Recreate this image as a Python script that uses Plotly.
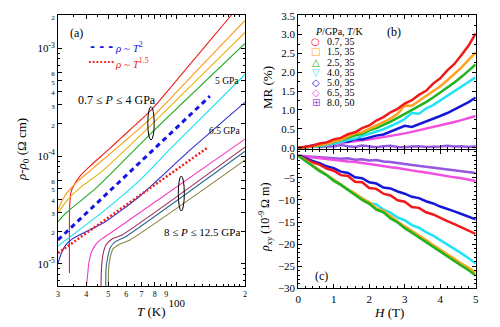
import plotly.graph_objects as go

# ---------------- panel (a): rho - rho0 vs T, log-log ----------------
T_P07 = [33.7, 33.7, 33.9, 34.2, 35.3, 37.5, 41.5, 49.8, 57.4, 77.1, 114.4, 173.5, 182.5]
RHO_P07 = [8.25e-6, 2.84e-5, 3.91e-5, 4.64e-5, 5.39e-5, 6.53e-5, 8.08e-5, 1.137e-4, 1.50e-4, 2.67e-4, 7.11e-4, 2.02e-3, 2.30e-3]
T_P15 = [30, 31.2, 32.8, 36.3, 42.9, 77.1, 126.7, 200]
RHO_P15 = [3.16e-5, 3.83e-5, 4.54e-5, 5.74e-5, 7.74e-5, 2.25e-4, 6.68e-4, 1.816e-3]
T_P25 = [30, 32.2, 34.5, 38.8, 45.9, 77.1, 126.7, 200]
RHO_P25 = [2.97e-5, 3.67e-5, 4.35e-5, 5.39e-5, 6.96e-5, 1.94e-4, 5.45e-4, 1.406e-3]
T_P40 = [30, 31.2, 32.9, 44.6, 77.1, 200]
RHO_P40 = [2.45e-5, 2.72e-5, 3.03e-5, 5.16e-5, 1.63e-4, 1.112e-3]
T_P50 = [30, 48.3, 68.9, 93.4, 200]
RHO_P50 = [1.468e-5, 3.16e-5, 5.99e-5, 1.161e-4, 5.74e-4]
T_P65 = [30, 31.2, 32.5, 34.6, 48.3, 68.9, 114.4, 200]
RHO_P65 = [1.02e-5, 1.29e-5, 1.50e-5, 1.70e-5, 2.45e-5, 4.27e-5, 1.137e-4, 3.16e-4]
T_HP1 = [40, 40.5, 41.1, 42.3, 45.0, 51.9, 200]
RHO_HP1 = [6.12e-6, 7.91e-6, 1.043e-5, 1.32e-5, 1.60e-5, 1.98e-5, 1.437e-4]
T_HP2 = [46.4, 46.6, 47.3, 48.8, 51.9, 57.4, 200]
RHO_HP2 = [6.12e-6, 8.8e-6, 1.21e-5, 1.50e-5, 1.70e-5, 1.855e-5, 1.212e-4]
T_HP3 = [48.7, 48.8, 49.6, 50.9, 53.5, 59.2, 200]
RHO_HP3 = [6.12e-6, 8.8e-6, 1.136e-5, 1.406e-5, 1.60e-5, 1.778e-5, 1.112e-4]
T_HP4 = [50.0, 50.1, 50.9, 52.4, 56.3, 62.3, 200]
RHO_HP4 = [6.12e-6, 8.8e-6, 1.136e-5, 1.377e-5, 1.532e-5, 1.67e-5, 9.18e-5]
# guide lines
T_SQ = [30, 140]
RHO_SQ = [1.67e-5, 3.6e-4]
T_15 = [30, 136]
RHO_15 = [1.26e-5, 1.19e-4]

# ---------------- panels (b) and (c): MR and rho_xy vs H ----------------
H_FIELD = [0.0, 0.2, 0.4, 0.6, 0.8, 1.0, 1.2, 1.4, 1.6, 1.8, 2.0, 2.2, 2.4,
           2.6, 2.8, 3.0, 3.2, 3.4, 3.6, 3.8, 4.0, 4.2, 4.4, 4.6, 4.8, 5.0]
MR_07 = [0, 0.03, 0.05, 0.11, 0.14, 0.22, 0.26, 0.36, 0.41, 0.52, 0.59, 0.72, 0.81,
         0.94, 1.03, 1.17, 1.26, 1.40, 1.51, 1.70, 1.84, 2.05, 2.22, 2.46, 2.71, 3.03]
MR_15 = [0, 0.02, 0.03, 0.07, 0.10, 0.16, 0.21, 0.30, 0.38, 0.41, 0.50, 0.58, 0.68,
         0.77, 0.90, 1.12, 1.11, 1.24, 1.36, 1.49, 1.63, 1.79, 1.95, 2.13, 2.33, 2.53]
MR_25 = [0, 0.01, 0.03, 0.06, 0.10, 0.14, 0.20, 0.26, 0.33, 0.37, 0.46, 0.52, 0.60,
         0.69, 0.79, 0.89, 0.99, 1.10, 1.21, 1.33, 1.46, 1.59, 1.73, 1.88, 2.04, 2.21]
MR_40 = [0, 0.0, 0.02, 0.04, 0.08, 0.10, 0.15, 0.20, 0.24, 0.31, 0.36, 0.43, 0.49,
         0.57, 0.66, 0.76, 0.92, 0.90, 1.04, 1.13, 1.25, 1.37, 1.49, 1.61, 1.74, 1.87]
MR_50 = [0, 0.02, 0.06, 0.10, 0.13, 0.11, 0.18, 0.16, 0.23, 0.22, 0.28, 0.32, 0.35,
         0.42, 0.50, 0.58, 0.55, 0.62, 0.68, 0.76, 0.84, 0.92, 1.01, 1.10, 1.21, 1.33]
MR_65 = [0, 0.02, 0.04, 0.06, 0.08, 0.10, 0.12, 0.14, 0.17, 0.20, 0.22, 0.25, 0.28,
         0.31, 0.35, 0.38, 0.42, 0.46, 0.50, 0.54, 0.59, 0.63, 0.68, 0.73, 0.78, 0.84]
MR_80 = [0, 0.01, 0.03, 0.02, 0.04, 0.03, 0.07, 0.04, 0.02, 0.06, 0.03, 0.01, 0.04,
         0.05, 0.02, 0.01, 0.03, 0.04, 0.02, 0.02, 0.03, 0.05, 0.03, 0.04, 0.02, 0.04]

RXY_07 = [0, -0.8, -1.5, -2.0, -2.9, -3.4, -4.4, -4.6, -5.9, -6.0, -7.3, -7.5, -8.6,
          -9.0, -10.1, -10.4, -11.6, -11.8, -12.8, -13.3, -14.1, -14.8, -15.5, -16.2, -16.9, -17.7]
RXY_15 = [0, -1.1, -2.2, -3.3, -4.3, -5.4, -6.4, -7.6, -8.5, -9.7, -10.5, -11.9, -12.5,
          -13.8, -14.9, -16.0, -17.0, -18.1, -19.1, -20.2, -21.2, -22.3, -23.3, -24.4, -25.4, -26.4]
RXY_25 = [0, -1.2, -2.3, -3.5, -4.4, -5.7, -6.6, -7.8, -8.8, -10.0, -10.9, -12.2, -12.8,
          -14.2, -15.1, -16.4, -17.4, -18.5, -19.5, -20.6, -21.7, -22.7, -23.8, -24.9, -25.9, -27.1]
RXY_40 = [0, -1.1, -2.2, -3.3, -4.4, -5.4, -6.6, -7.5, -8.7, -9.6, -10.7, -11.0, -12.2,
          -12.9, -14.0, -14.6, -15.7, -16.3, -17.3, -18.1, -19.1, -20.0, -21.0, -22.1, -23.2, -24.4]
RXY_50 = [0, -0.5, -1.2, -1.7, -2.4, -2.8, -3.6, -3.9, -4.9, -5.1, -6.0, -6.3, -7.2,
          -7.4, -8.1, -8.6, -9.3, -9.6, -10.3, -10.8, -11.5, -12.0, -12.6, -13.2, -13.8, -14.4]
RXY_65 = [0, -0.2, -0.4, -0.6, -0.8, -0.9, -1.1, -1.3, -1.4, -1.7, -1.9, -2.1, -2.4,
          -2.6, -2.8, -3.1, -3.3, -3.6, -3.8, -4.1, -4.4, -4.6, -4.9, -5.1, -5.4, -5.7]
RXY_80 = [0, -0.1, -0.2, -0.3, -0.4, -0.5, -0.7, -0.6, -0.9, -0.8, -1.1, -1.0, -1.3,
          -1.4, -1.7, -1.9, -2.1, -2.3, -2.4, -2.7, -2.8, -3.1, -3.2, -3.5, -3.6, -3.9]

LEGEND_LABELS = ["0.7, 35", "1.5, 35", "2.5, 35", "4.0, 35", "5.0, 35", "6.5, 35", "8.0, 50"]
LEGEND_GLYPHS = ["○", "□", "△", "▽", "◇", "◇", "⊞"]

SERIF = "Liberation Serif, Times New Roman, serif"
W, HGT = 500, 327


def px(x):
    return x / W


def py(y):
    return 1 - y / HGT


fig = go.Figure()

# panel a curves
a_curves = [
    (T_P07, RHO_P07, "#f21d1d"), (T_P15, RHO_P15, "#ff9a10"), (T_P25, RHO_P25, "#e8b20c"),
    (T_P40, RHO_P40, "#24ab24"), (T_P50, RHO_P50, "#19e0ef"), (T_P65, RHO_P65, "#2b2bd6"),
    (T_HP1, RHO_HP1, "#f03cc8"), (T_HP2, RHO_HP2, "#9b2d5c"), (T_HP3, RHO_HP3, "#2e6c8c"),
    (T_HP4, RHO_HP4, "#8f8442"),
]
for tx, ry, col in a_curves:
    fig.add_trace(go.Scatter(x=tx, y=ry, mode="lines", line=dict(color=col, width=1.1, shape="spline", smoothing=0.6),
                             showlegend=False, xaxis="x", yaxis="y"))
fig.add_trace(go.Scatter(x=T_SQ, y=RHO_SQ, mode="lines", line=dict(color="#1515e6", width=3, dash="5px,4px"),
                         showlegend=False, xaxis="x", yaxis="y"))
fig.add_trace(go.Scatter(x=T_15, y=RHO_15, mode="lines", line=dict(color="#ee2020", width=2.5, dash="2px,2px"),
                         showlegend=False, xaxis="x", yaxis="y"))

# panels b, c
bc_colors = ["#f01818", "#ffa21c", "#1fb41f", "#20e4f4", "#1717d8", "#f24ee0", "#9457e0"]
mr_series = [MR_07, MR_15, MR_25, MR_40, MR_50, MR_65, MR_80]
rxy_series = [RXY_07, RXY_15, RXY_25, RXY_40, RXY_50, RXY_65, RXY_80]
for i in [6, 5, 4, 3, 2, 1, 0]:
    fig.add_trace(go.Scatter(x=H_FIELD, y=mr_series[i], mode="lines", line=dict(color=bc_colors[i], width=2.5),
                             showlegend=False, xaxis="x2", yaxis="y2"))
for i in [6, 5, 4, 0, 3, 1, 2]:
    fig.add_trace(go.Scatter(x=H_FIELD, y=rxy_series[i], mode="lines", line=dict(color=bc_colors[i], width=2.5),
                             showlegend=False, xaxis="x3", yaxis="y3"))

# axes
axis_common = dict(showline=True, linecolor="black", linewidth=1, mirror="allticks", showgrid=False,
                   zeroline=False, ticks="inside", tickcolor="black", automargin=False, tickangle=0)

ytick_vals = [2e-3, 1e-3, 6e-4, 5e-4, 4e-4, 3e-4, 2e-4, 1e-4, 6e-5, 5e-5, 4e-5, 3e-5, 2e-5, 1e-5]
small = '<span style="font-size:7px">%s</span>'
ytick_text = [small % "2", "10<sup>-3</sup>", small % "6", small % "5", small % "4", small % "3", small % "2",
              "10<sup>-4</sup>", small % "6", small % "5", small % "4", small % "3", small % "2", "10<sup>-5</sup>"]
y_minor = [m * 10 ** e for e in (-6, -5, -4, -3) for m in range(2, 10) if 6e-6 < m * 10 ** e < 2e-3]

xtick_vals = [30, 40, 50, 60, 70, 80, 90, 100, 200]
xtick_text = ["3", "4", "5", "6", "7", "8", "9", '<br><span style="font-size:11px">100</span>', "2"]
x_minor = [35, 45, 55, 65, 75, 85, 95, 110, 120, 130, 140, 150, 160, 170, 180, 190]

fig.update_layout(
    width=W, height=HGT, margin=dict(l=0, r=0, t=0, b=0, autoexpand=False),
    paper_bgcolor="white", plot_bgcolor="white",
    font=dict(family=SERIF, color="black", size=11),
    xaxis=dict(axis_common, type="log", range=[1.4771, 2.3010], domain=[px(58), px(245)], anchor="y",
               tickvals=xtick_vals, ticktext=xtick_text, tickfont=dict(size=8), ticklen=4,
               minor=dict(ticks="inside", ticklen=2, tickvals=x_minor, tickcolor="black")),
    yaxis=dict(axis_common, type="log", range=[-5.205, -2.69], domain=[py(286), py(15)], anchor="x",
               tickvals=ytick_vals, ticktext=ytick_text, tickfont=dict(size=11), ticklen=4,
               minor=dict(ticks="inside", ticklen=2, tickvals=y_minor, tickcolor="black")),
    xaxis2=dict(axis_common, range=[0, 5], domain=[px(298.3), px(475.7)], anchor="y2", dtick=1,
                showticklabels=False, ticklen=4, minor=dict(ticks="inside", ticklen=2, dtick=0.2, tickcolor="black")),
    yaxis2=dict(axis_common, range=[-0.035, 3.52], domain=[py(149), py(15)], anchor="x2", dtick=0.5,
                tickformat=".1f", tickfont=dict(size=11), ticklen=4,
                minor=dict(ticks="inside", ticklen=2, dtick=0.25, tickcolor="black")),
    xaxis3=dict(axis_common, range=[0, 5], domain=[px(298.3), px(475.7)], anchor="y3", dtick=1,
                tickfont=dict(size=11), ticklen=4, minor=dict(ticks="inside", ticklen=2, dtick=0.2, tickcolor="black")),
    yaxis3=dict(axis_common, range=[-30, 1.29], domain=[py(288.3), py(150)], anchor="x3", dtick=5,
                tickfont=dict(size=11), ticklen=4, minor=dict(ticks="inside", ticklen=2, dtick=1, tickcolor="black")),
)

# callout ellipses
fig.add_shape(type="circle", xref="paper", yref="paper", x0=px(147.8), x1=px(154.2), y0=py(140), y1=py(106.6),
              line=dict(color="black", width=1))
fig.add_shape(type="circle", xref="paper", yref="paper", x0=px(178.3), x1=px(184.3), y0=py(211), y1=py(176),
              line=dict(color="black", width=1))


def note(x, y, text, size=12, color="black", xanchor="center", angle=0, family=SERIF):
    fig.add_annotation(x=px(x), y=py(y), xref="paper", yref="paper", text=text, showarrow=False,
                       xanchor=xanchor, yanchor="middle", textangle=angle,
                       font=dict(family=family, size=size, color=color))


note(76.5, 33, "(a)", 12)
note(101.5, 46.5, "<b>- - -</b>", 12, "#1515e6", family="DejaVu Sans")
note(113, 46.7, "<i>ρ</i> ~ <i>T</i><sup>2</sup>", 11, "#1515e6", xanchor="left")
note(101.5, 62.7, "<b>·······</b>", 10, "#ee2020", family="DejaVu Sans")
note(113, 62.7, "<i>ρ</i> ~ <i>T</i><sup>1.5</sup>", 11, "#ee2020", xanchor="left")
note(116.7, 100, "0.7 ≤ <i>P</i> ≤ 4 GPa", 12)
note(227, 81, "5 GPa", 9.5)
note(224, 131, "6.5 GPa", 9.5)
note(202, 232, "8 ≤ <i>P</i> ≤ 12.5 GPa", 11)
note(151.5, 311.5, "<i>T</i> (K)", 13)
note(22, 150, "<i>ρ</i>-<i>ρ</i><sub>0</sub> (Ω cm)", 13, angle=-90)

note(394, 31.7, "(b)", 12)
note(313, 31.7, "<i>P</i>/GPa, <i>T</i>/K", 10, xanchor="left")
for k, (lab, gl) in enumerate(zip(LEGEND_LABELS, LEGEND_GLYPHS)):
    yy = 41.7 + 10.17 * k
    note(315.7, yy, gl, 10, bc_colors[k], family="DejaVu Sans")
    note(325, yy, lab, 10, xanchor="left")
note(268, 88, "MR (%)", 13, angle=-90)
note(321, 276, "(c)", 12)
note(265, 218, "<i>ρ</i><sub>xy</sub> (10<sup>-9</sup> Ω m)", 12, angle=-90)
note(389, 312, "<i>H</i> (T)", 13)

# the browser's default 8px body margin would shift the whole figure
fig.write_html("out.html", config={"displayModeBar": False},
               post_script="document.body.style.margin='0';")
